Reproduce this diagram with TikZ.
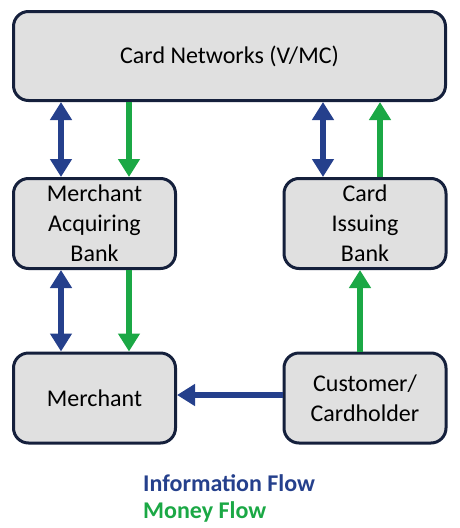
\documentclass[tikz,border=0pt]{standalone}
\usepackage{fontspec}
\setmainfont{Carlito}
\usetikzlibrary{arrows.meta}
\definecolor{infoblue}{HTML}{25408C}
\definecolor{moneygreen}{HTML}{1BA845}
\definecolor{boxline}{HTML}{15203C}
\definecolor{boxfill}{HTML}{E0E0E0}
\tikzset{
  box/.style={draw=boxline, fill=boxfill, line width=3pt, rounded corners=15pt,
    align=center, font=\fontsize{24}{30}\selectfont, inner sep=0pt},
  smallbox/.style={box, minimum width=162pt, minimum height=90pt},
  info/.style={draw=infoblue, line width=6pt, {Triangle[width=21pt,length=18pt]}-{Triangle[width=21pt,length=18pt]}},
  infoone/.style={draw=infoblue, line width=6pt, -{Triangle[width=21pt,length=18pt]}},
  money/.style={draw=moneygreen, line width=6pt, -{Triangle[width=21pt,length=18pt]}},
  legend/.style={font=\bfseries\fontsize{24}{30}\selectfont, anchor=west, inner sep=0pt}
}
\begin{document}
\begin{tikzpicture}[x=1pt, y=-1pt]
\useasboundingbox (0,0) rectangle (460,528);
\node[box, minimum width=432pt, minimum height=89pt] (net) at (229.5,56) {Card Networks (V/MC)};
\node[smallbox] (mab) at (94.5,223.5) {Merchant\\Acquiring\\Bank};
\node[smallbox] (cib) at (365,223.5) {Card\\Issuing\\Bank};
\node[smallbox] (mer) at (94.5,398) {Merchant};
\node[smallbox] (cus) at (365,398) {Customer/\\Cardholder};
% top-left
\draw[info] (net.south -| 61,0) -- (mab.north -| 61,0);
\draw[money] (net.south -| 129,0) -- (mab.north -| 129,0);
% top-right
\draw[info] (net.south -| 323,0) -- (cib.north -| 323,0);
\draw[money] (cib.north -| 380,0) -- (net.south -| 380,0);
% lower-left
\draw[info] (mab.south -| 61,0) -- (mer.north -| 61,0);
\draw[money] (mab.south -| 129,0) -- (mer.north -| 129,0);
% lower-right
\draw[money] (cus.north -| 360,0) -- (cib.south -| 360,0);
\draw[infoone] (cus.west |- 0,395) -- (mer.east |- 0,395);
% legend
\node[legend, text=infoblue] (l1) at (143,483) {Information Flow};
\node[legend, text=moneygreen] (l2) at (143,512) {Money Flow};
\end{tikzpicture}
\end{document}
